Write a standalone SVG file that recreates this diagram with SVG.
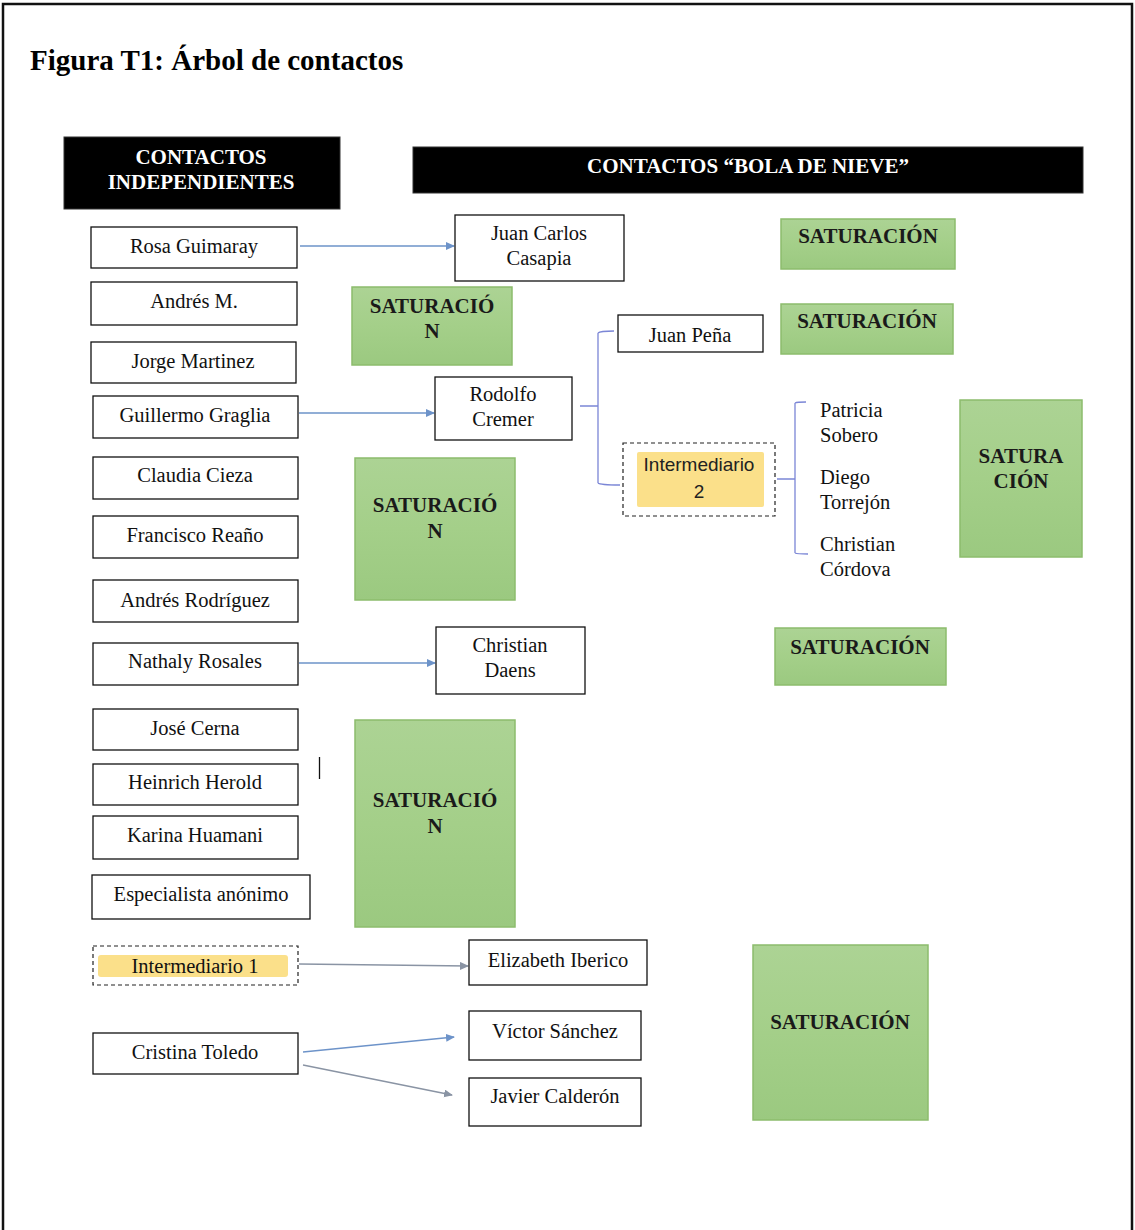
<svg xmlns="http://www.w3.org/2000/svg" width="1135" height="1230" viewBox="0 0 1135 1230">
  <style>
    .t { font-family: "Liberation Serif", "Times New Roman", serif; font-size: 20.5px; fill: #111; text-anchor: middle; }
    .tl { font-family: "Liberation Serif", "Times New Roman", serif; font-size: 20.5px; fill: #111; }
    .hd { font-family: "Liberation Serif", "Times New Roman", serif; font-size: 21px; font-weight: bold; fill: #fff; text-anchor: middle; }
    .sat { font-family: "Liberation Serif", "Times New Roman", serif; font-size: 21px; font-weight: bold; fill: #1a1a1a; text-anchor: middle; }
    .sans { font-family: "Liberation Sans", Arial, sans-serif; font-size: 19px; fill: #222; text-anchor: middle; }
    .box { fill: #fff; stroke: #111; stroke-width: 1.3; }
    .dash { fill: #fff; stroke: #222; stroke-width: 1.2; stroke-dasharray: 4 3; }
    .hl { fill: #fbe08a; }
    .green { fill: url(#g); stroke: #8cbc6c; stroke-width: 1.5; }
    .head { fill: #000; stroke: #333; stroke-width: 1; }
    .arr { stroke: #6d93c9; stroke-width: 1.4; fill: none; marker-end: url(#ah); }
    .arrg { stroke: #8a94a4; stroke-width: 1.4; fill: none; marker-end: url(#ahg); }
    .br { stroke: #7b86d6; stroke-width: 1.3; fill: none; }
  </style>
  <defs>
    <linearGradient id="g" x1="0" y1="0" x2="0" y2="1">
      <stop offset="0" stop-color="#acd394"/>
      <stop offset="0.5" stop-color="#a4cf89"/>
      <stop offset="1" stop-color="#9bc980"/>
    </linearGradient>
    <marker id="ah" markerWidth="10" markerHeight="10" refX="8" refY="4" orient="auto" markerUnits="userSpaceOnUse">
      <path d="M0,0 L9,4 L0,8 Z" fill="#6d93c9"/>
    </marker>
    <marker id="ahg" markerWidth="10" markerHeight="10" refX="8" refY="4" orient="auto" markerUnits="userSpaceOnUse">
      <path d="M0,0 L9,4 L0,8 Z" fill="#8a94a4"/>
    </marker>
  </defs>

  <rect x="0" y="0" width="1135" height="1230" fill="#fff"/>
  <!-- page frame, open at the bottom -->
  <path d="M3,1230 V4 H1132 V1230" fill="none" stroke="#111" stroke-width="2.5"/>

  <text x="30" y="70" font-family="'Liberation Serif', 'Times New Roman', serif" font-size="29" font-weight="bold" fill="#000">Figura T1: Árbol de contactos</text>

  <!-- column headers -->
  <g id="hdr-independientes">
    <rect class="head" x="64" y="137" width="276" height="72"/>
    <text class="hd" x="201" y="164">CONTACTOS</text>
    <text class="hd" x="201" y="189">INDEPENDIENTES</text>
  </g>
  <g id="hdr-bola">
    <rect class="head" x="413" y="147" width="670" height="46"/>
    <text class="hd" x="748" y="173">CONTACTOS “BOLA DE NIEVE”</text>
  </g>

  <!-- connectors -->
  <g id="connectors">
    <line class="arr" x1="300" y1="246" x2="454" y2="246"/>
    <line class="arr" x1="299" y1="413" x2="434" y2="413"/>
    <line class="arr" x1="299" y1="663" x2="435" y2="663"/>
    <line class="arrg" x1="299" y1="964" x2="468" y2="966"/>
    <line class="arr" x1="303" y1="1052" x2="454" y2="1037"/>
    <line class="arrg" x1="303" y1="1065" x2="452" y2="1095"/>
    <!-- bracket from Rodolfo Cremer -->
    <path class="br" d="M580,406 H598 M598,333 V483 M598,333 Q600,331 614,331 M598,483 Q600,485 620,485"/>
    <!-- bracket from Intermediario 2 -->
    <path class="br" d="M777,479 H795 M795,403 V553 M795,403 Q797,402 806,402 M795,553 Q797,554 808,554"/>
    <line x1="319.5" y1="757" x2="319.5" y2="779" stroke="#111" stroke-width="1.3"/>
  </g>

  <!-- independent contacts -->
  <g id="n-rosa"><rect class="box" x="91" y="227" width="206" height="41"/><text class="t" x="194" y="253">Rosa Guimaray</text></g>
  <g id="n-andres-m"><rect class="box" x="91" y="282" width="206" height="43"/><text class="t" x="194" y="308">Andrés M.</text></g>
  <g id="n-jorge"><rect class="box" x="91" y="342" width="205" height="41"/><text class="t" x="193" y="368">Jorge Martinez</text></g>
  <g id="n-guillermo"><rect class="box" x="93" y="396" width="205" height="42"/><text class="t" x="195" y="422">Guillermo Graglia</text></g>
  <g id="n-claudia"><rect class="box" x="93" y="457" width="205" height="42"/><text class="t" x="195" y="482">Claudia Cieza</text></g>
  <g id="n-francisco"><rect class="box" x="93" y="516" width="205" height="42"/><text class="t" x="195" y="542">Francisco Reaño</text></g>
  <g id="n-andres-r"><rect class="box" x="93" y="580" width="205" height="42"/><text class="t" x="195" y="607">Andrés Rodríguez</text></g>
  <g id="n-nathaly"><rect class="box" x="93" y="643" width="205" height="42"/><text class="t" x="195" y="668">Nathaly Rosales</text></g>
  <g id="n-jose"><rect class="box" x="93" y="709" width="205" height="41"/><text class="t" x="195" y="735">José Cerna</text></g>
  <g id="n-heinrich"><rect class="box" x="93" y="764" width="205" height="41"/><text class="t" x="195" y="789">Heinrich Herold</text></g>
  <g id="n-karina"><rect class="box" x="93" y="816" width="205" height="43"/><text class="t" x="195" y="842">Karina Huamani</text></g>
  <g id="n-especialista"><rect class="box" x="92" y="875" width="218" height="44"/><text class="t" x="201" y="901">Especialista anónimo</text></g>
  <g id="n-intermediario1">
    <rect class="dash" x="93" y="946" width="205" height="39"/>
    <rect class="hl" x="98" y="955" width="190" height="22" rx="3"/>
    <text class="t" x="195" y="973">Intermediario 1</text>
  </g>
  <g id="n-cristina"><rect class="box" x="93" y="1033" width="205" height="41"/><text class="t" x="195" y="1059">Cristina Toledo</text></g>

  <!-- snowball contacts -->
  <g id="n-juan-carlos"><rect class="box" x="455" y="215" width="169" height="66"/><text class="t" x="539" y="240">Juan Carlos</text><text class="t" x="539" y="265">Casapia</text></g>
  <g id="n-rodolfo"><rect class="box" x="435" y="377" width="137" height="63"/><text class="t" x="503" y="401">Rodolfo</text><text class="t" x="503" y="426">Cremer</text></g>
  <g id="n-juan-pena"><rect class="box" x="618" y="315" width="145" height="37"/><text class="t" x="690" y="342">Juan Peña</text></g>
  <g id="n-intermediario2">
    <rect class="dash" x="623" y="443" width="152" height="73"/>
    <rect class="hl" x="637" y="452" width="127" height="55" rx="2"/>
    <text class="sans" x="699" y="471">Intermediario</text>
    <text class="sans" x="699" y="498">2</text>
  </g>
  <g id="n-patricia"><text class="tl" x="820" y="417">Patricia</text><text class="tl" x="820" y="442">Sobero</text></g>
  <g id="n-diego"><text class="tl" x="820" y="484">Diego</text><text class="tl" x="820" y="509">Torrejón</text></g>
  <g id="n-christian-c"><text class="tl" x="820" y="551">Christian</text><text class="tl" x="820" y="576">Córdova</text></g>
  <g id="n-christian-d"><rect class="box" x="436" y="627" width="149" height="67"/><text class="t" x="510" y="652">Christian</text><text class="t" x="510" y="677">Daens</text></g>
  <g id="n-elizabeth"><rect class="box" x="469" y="940" width="178" height="45"/><text class="t" x="558" y="967">Elizabeth Iberico</text></g>
  <g id="n-victor"><rect class="box" x="469" y="1011" width="172" height="49"/><text class="t" x="555" y="1038">Víctor Sánchez</text></g>
  <g id="n-javier"><rect class="box" x="469" y="1078" width="172" height="48"/><text class="t" x="555" y="1103">Javier Calderón</text></g>

  <!-- saturation markers -->
  <g id="sat-1"><rect class="green" x="781" y="219" width="174" height="50"/><text class="sat" x="868" y="243">SATURACIÓN</text></g>
  <g id="sat-2"><rect class="green" x="352" y="287" width="160" height="78"/><text class="sat" x="432" y="313">SATURACIÓ</text><text class="sat" x="432" y="338">N</text></g>
  <g id="sat-3"><rect class="green" x="781" y="304" width="172" height="50"/><text class="sat" x="867" y="328">SATURACIÓN</text></g>
  <g id="sat-4"><rect class="green" x="960" y="400" width="122" height="157"/><text class="sat" x="1021" y="463">SATURA</text><text class="sat" x="1021" y="488">CIÓN</text></g>
  <g id="sat-5"><rect class="green" x="355" y="458" width="160" height="142"/><text class="sat" x="435" y="512">SATURACIÓ</text><text class="sat" x="435" y="538">N</text></g>
  <g id="sat-6"><rect class="green" x="775" y="628" width="171" height="57"/><text class="sat" x="860" y="654">SATURACIÓN</text></g>
  <g id="sat-7"><rect class="green" x="355" y="720" width="160" height="207"/><text class="sat" x="435" y="807">SATURACIÓ</text><text class="sat" x="435" y="833">N</text></g>
  <g id="sat-8"><rect class="green" x="753" y="945" width="175" height="175"/><text class="sat" x="840" y="1029">SATURACIÓN</text></g>
</svg>
